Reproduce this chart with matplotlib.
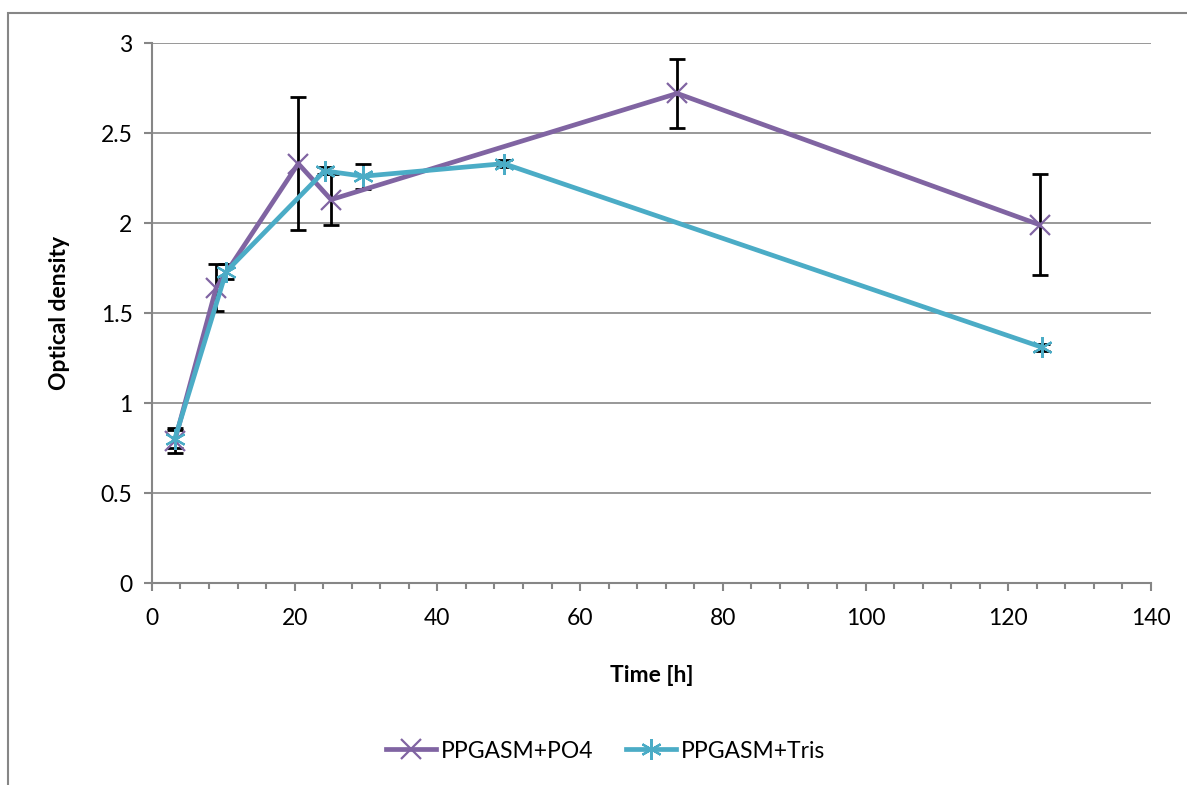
import matplotlib
matplotlib.use('Agg')
import matplotlib.pyplot as plt
from matplotlib.patches import Rectangle
from matplotlib.ticker import MultipleLocator

plt.rcParams['font.family'] = ['Lato', 'DejaVu Sans']

# PPGASM+PO4
time_po4 = [3.2, 9.0, 20.5, 25.1, 73.6, 124.4]
od_po4 = [0.79, 1.64, 2.33, 2.13, 2.72, 1.99]
err_po4 = [0.07, 0.13, 0.37, 0.14, 0.19, 0.28]

# PPGASM+Tris
time_tris = [3.2, 10.4, 24.2, 29.6, 49.3, 124.7]
od_tris = [0.80, 1.73, 2.29, 2.26, 2.33, 1.31]
err_tris = [0.05, 0.04, 0.02, 0.07, 0.02, 0.02]

purple = '#8064A2'
teal = '#4BACC6'
grid_c = '#868686'

fig = plt.figure(figsize=(11.87, 7.85), dpi=100)
ax = fig.add_axes([0.128, 0.2573, 0.9697 - 0.128, 0.9452 - 0.2573])

# outer chart border (only left/top visible)
fig.patches.append(Rectangle((8 / 1187, -0.1), 1.2, 1 - 13 / 785 + 0.1,
                             transform=fig.transFigure, fill=False,
                             edgecolor=grid_c, linewidth=1.5))

ax.errorbar(time_po4, od_po4, yerr=err_po4, fmt='none', ecolor='black',
            elinewidth=2, capsize=6, capthick=2, zorder=2)
ax.errorbar(time_tris, od_tris, yerr=err_tris, fmt='none', ecolor='black',
            elinewidth=2, capsize=6, capthick=2, zorder=2)
ax.plot(time_po4, od_po4, color=purple, lw=3.4, marker='x', ms=14, mew=1.6,
        label='PPGASM+PO4', zorder=3)
ax.plot(time_tris, od_tris, color=teal, lw=3.4, marker=(6, 2, 0), ms=15, mew=1.6,
        label='PPGASM+Tris', zorder=4)

ax.set_xlim(0, 140)
ax.set_ylim(0, 3)
ax.xaxis.set_major_locator(MultipleLocator(20))
ax.xaxis.set_minor_locator(MultipleLocator(4))
ax.set_yticks([0, 0.5, 1, 1.5, 2, 2.5, 3])
ax.set_yticklabels(['0', '0.5', '1', '1.5', '2', '2.5', '3'])
ax.grid(axis='y', color=grid_c, lw=1.2)
ax.set_axisbelow(True)

for s in ['top', 'right']:
    ax.spines[s].set_visible(False)
for s in ['left', 'bottom']:
    ax.spines[s].set_color(grid_c)
    ax.spines[s].set_linewidth(1.5)

ax.tick_params(axis='both', which='major', color=grid_c, width=1.5, length=6,
               labelsize=16.5, pad=8)
ax.tick_params(axis='x', which='minor', color=grid_c, width=1.5, length=4)
ax.tick_params(axis='x', pad=12)

ax.set_xlabel('Time [h]', fontsize=16.5, fontweight='bold', labelpad=26)
ax.set_ylabel('Optical density', fontsize=16.5, fontweight='bold', labelpad=22)

fig.legend(loc='center', bbox_to_anchor=(0.51, 1 - 751 / 785), ncol=2,
           frameon=False, fontsize=16.5, handlelength=2.2, columnspacing=1.4,
           handletextpad=0.2)

fig.savefig('out.png', dpi=100)
